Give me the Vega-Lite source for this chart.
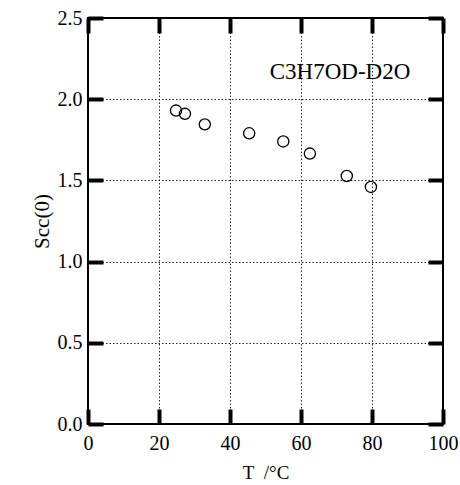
{
  "$schema": "https://vega.github.io/schema/vega-lite/v6.json",
  "width": 355,
  "height": 406,
  "autosize": {"type": "none"},
  "padding": {"left": 88, "top": 18, "right": 17, "bottom": 61},
  "background": "white",
  "config": {
    "view": {"stroke": "black", "strokeWidth": 2},
    "font": "Liberation Serif",
    "axis": {
      "labelFont": "Liberation Serif",
      "titleFont": "Liberation Serif",
      "labelColor": "black",
      "titleColor": "black",
      "titleFontWeight": "normal",
      "domain": false,
      "ticks": true,
      "tickColor": "black",
      "tickWidth": 4,
      "tickSize": -15
    }
  },
  "resolve": {"axis": {"x": "independent", "y": "independent"}},
  "layer": [
    {
      "data": {
        "values": [
          {"T": 24.8, "S": 1.93},
          {"T": 27.3, "S": 1.91},
          {"T": 32.9, "S": 1.845},
          {"T": 45.4, "S": 1.79},
          {"T": 55.0, "S": 1.74},
          {"T": 62.5, "S": 1.665},
          {"T": 72.9, "S": 1.527},
          {"T": 79.7, "S": 1.46}
        ]
      },
      "mark": {"type": "point", "shape": "circle", "filled": false, "stroke": "black", "strokeWidth": 1.3, "size": 125, "opacity": 1},
      "encoding": {
        "x": {
          "field": "T", "type": "quantitative",
          "scale": {"domain": [0, 100], "nice": false, "zero": false},
          "axis": {
            "orient": "bottom", "values": [0, 20, 40, 60, 80, 100],
            "title": "T\u2002/°C", "labelFontSize": 20, "titleFontSize": 19,
            "labelPadding": 24, "titlePadding": 10,
            "grid": true, "gridColor": "black", "gridDash": [1.5, 2], "gridWidth": 1, "gridOpacity": 0.85,
            "labelFlush": false
          }
        },
        "y": {
          "field": "S", "type": "quantitative",
          "scale": {"domain": [0, 2.5], "nice": false, "zero": false},
          "axis": {
            "orient": "left", "values": [0, 0.5, 1, 1.5, 2, 2.5], "format": ".1f",
            "title": "Scc(0)", "labelFontSize": 20, "titleFontSize": 21,
            "labelPadding": 21, "titlePadding": 5,
            "grid": true, "gridColor": "black", "gridDash": [1.5, 2], "gridWidth": 1, "gridOpacity": 0.85,
            "labelFlush": false
          }
        }
      }
    },
    {
      "data": {"values": [{"T": 71, "S": 2.17, "label": "C3H7OD-D2O"}]},
      "mark": {"type": "text", "font": "Liberation Serif", "fontSize": 23, "color": "black", "baseline": "middle", "align": "center"},
      "encoding": {
        "x": {
          "field": "T", "type": "quantitative",
          "scale": {"domain": [0, 100], "nice": false, "zero": false},
          "axis": {"orient": "top", "values": [0, 20, 40, 60, 80, 100], "labels": false, "title": null, "grid": false, "ticks": true, "tickSize": -15, "tickColor": "black", "tickWidth": 4}
        },
        "y": {
          "field": "S", "type": "quantitative",
          "scale": {"domain": [0, 2.5], "nice": false, "zero": false},
          "axis": {"orient": "right", "values": [0, 0.5, 1, 1.5, 2, 2.5], "labels": false, "title": null, "grid": false}
        },
        "text": {"field": "label"}
      }
    }
  ]
}
